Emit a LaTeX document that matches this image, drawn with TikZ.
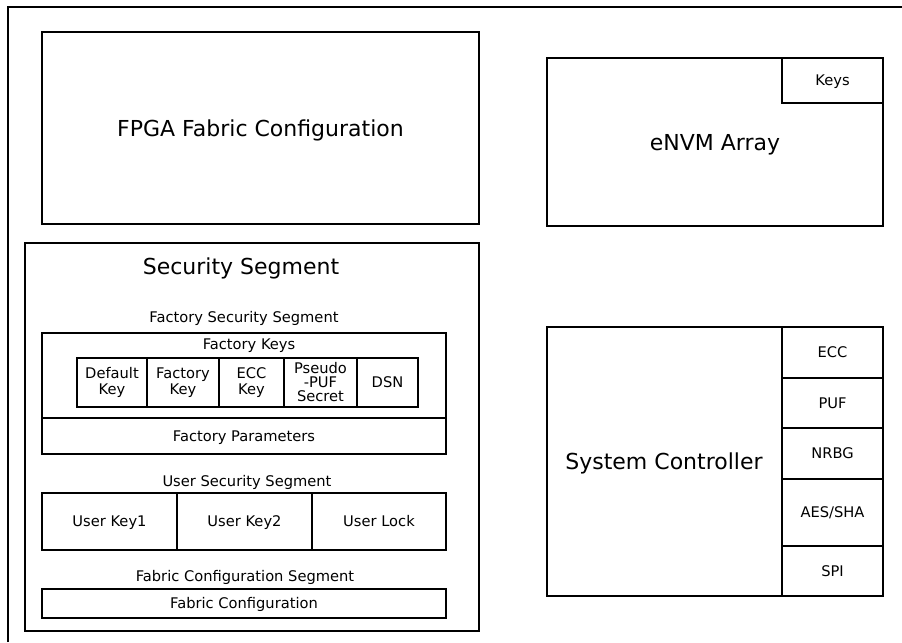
\documentclass[tikz,border=0pt]{standalone}
\usepackage{fontspec}
\setmainfont{DejaVu Sans}
\usetikzlibrary{fit}
\begin{document}
\begin{tikzpicture}[x=0.75pt,y=-0.75pt,
  box/.style={draw, line width=0.8pt, inner sep=0pt},
  lbl/.style={inner sep=0pt, align=center, font=\fontsize{11}{12}\selectfont,
    text height=8pt, text depth=0pt},
  lbltwo/.style={inner sep=0pt, align=center, font=\fontsize{11}{12}\selectfont},
  lblthree/.style={inner sep=0pt, align=center, font=\fontsize{11}{10.5}\selectfont},
  biglbl/.style={inner sep=0pt, font=\fontsize{16.5}{20}\selectfont,
    text height=12pt, text depth=0pt}]
\useasboundingbox (0,0) rectangle (902,642);

% outer frame (top and left edges only)
\coordinate (frbl) at (8,642);
\coordinate (frtl) at (8,7);
\coordinate (frtr) at (902,7);
\draw[line width=0.8pt] (frbl) -- (frtl) -- (frtr);

% FPGA fabric
\node[box, fit={(42,32)(479,224)}] (fpga) {};
\node[biglbl] (fpgalbl) at (fpga.center) {FPGA Fabric Configuration};

% security segment
\node[box, fit={(25,243)(479,631)}] (sec) {};
\node[biglbl] (sectitle) at (241,266) {Security Segment};

\node[lbl] (fsslbl) at (244,317) {Factory Security Segment};
\node[box, fit={(42,333)(446,418)}] (fkeys) {};
\node[lbl] (fkeyslbl) at (249,344) {Factory Keys};
\node[box, fit={(77,358)(147,407)}] (kdef) {};
\node[box, fit={(147,358)(219,407)}] (kfac) {};
\node[box, fit={(219,358)(284,407)}] (kecc) {};
\node[box, fit={(284,358)(357,407)}] (kpuf) {};
\node[box, fit={(357,358)(418,407)}] (kdsn) {};
\node[lbltwo] (kdeflbl) at (kdef.center) {Default\\Key};
\node[lbltwo] (kfaclbl) at (kfac.center) {Factory\\Key};
\node[lbltwo] (kecclbl) at (kecc.center) {ECC\\Key};
\node[lblthree] (kpuflbl) at (kpuf.center) {Pseudo\\-PUF\\Secret};
\node[lbl] (kdsnlbl) at (kdsn.center) {DSN};
\node[box, fit={(42,418)(446,454)}] (fparams) {};
\node[lbl] (fparamslbl) at (fparams.center) {Factory Parameters};

\node[lbl] (usslbl) at (247,481) {User Security Segment};
\node[box, fit={(42,493)(177,550)}] (uk1) {};
\node[box, fit={(177,493)(312,550)}] (uk2) {};
\node[box, fit={(312,493)(446,550)}] (ulock) {};
\node[lbl] (uk1lbl) at (uk1.center) {User Key1};
\node[lbl] (uk2lbl) at (uk2.center) {User Key2};
\node[lbl] (ulocklbl) at (ulock.center) {User Lock};

\node[lbl] (fcslbl) at (245,576) {Fabric Configuration Segment};
\node[box, fit={(42,589)(446,618)}] (fcfg) {};
\node[lbl] (fcfglbl) at (fcfg.center) {Fabric Configuration};

% eNVM array
\node[box, fit={(547,58)(883,226)}] (envm) {};
\node[biglbl] (envmlbl) at (envm.center) {eNVM Array};
\node[box, fit={(782,58)(883,103)}] (ekeys) {};
\node[lbl] (ekeyslbl) at (ekeys.center) {Keys};

% system controller
\node[box, fit={(547,327)(883,596)}] (sysc) {};
\node[biglbl] (sysclbl) at (664,461) {System Controller};
\node[box, fit={(782,327)(883,378)}] (secc) {};
\node[box, fit={(782,378)(883,428)}] (spuf) {};
\node[box, fit={(782,428)(883,479)}] (snrbg) {};
\node[box, fit={(782,479)(883,546)}] (saes) {};
\node[box, fit={(782,546)(883,596)}] (sspi) {};
\node[lbl] (secclbl) at (secc.center) {ECC};
\node[lbl] (spuflbl) at (spuf.center) {PUF};
\node[lbl] (snrbglbl) at (snrbg.center) {NRBG};
\node[lbl] (saeslbl) at (saes.center) {AES/SHA};
\node[lbl] (sspilbl) at (sspi.center) {SPI};
\end{tikzpicture}
\end{document}
